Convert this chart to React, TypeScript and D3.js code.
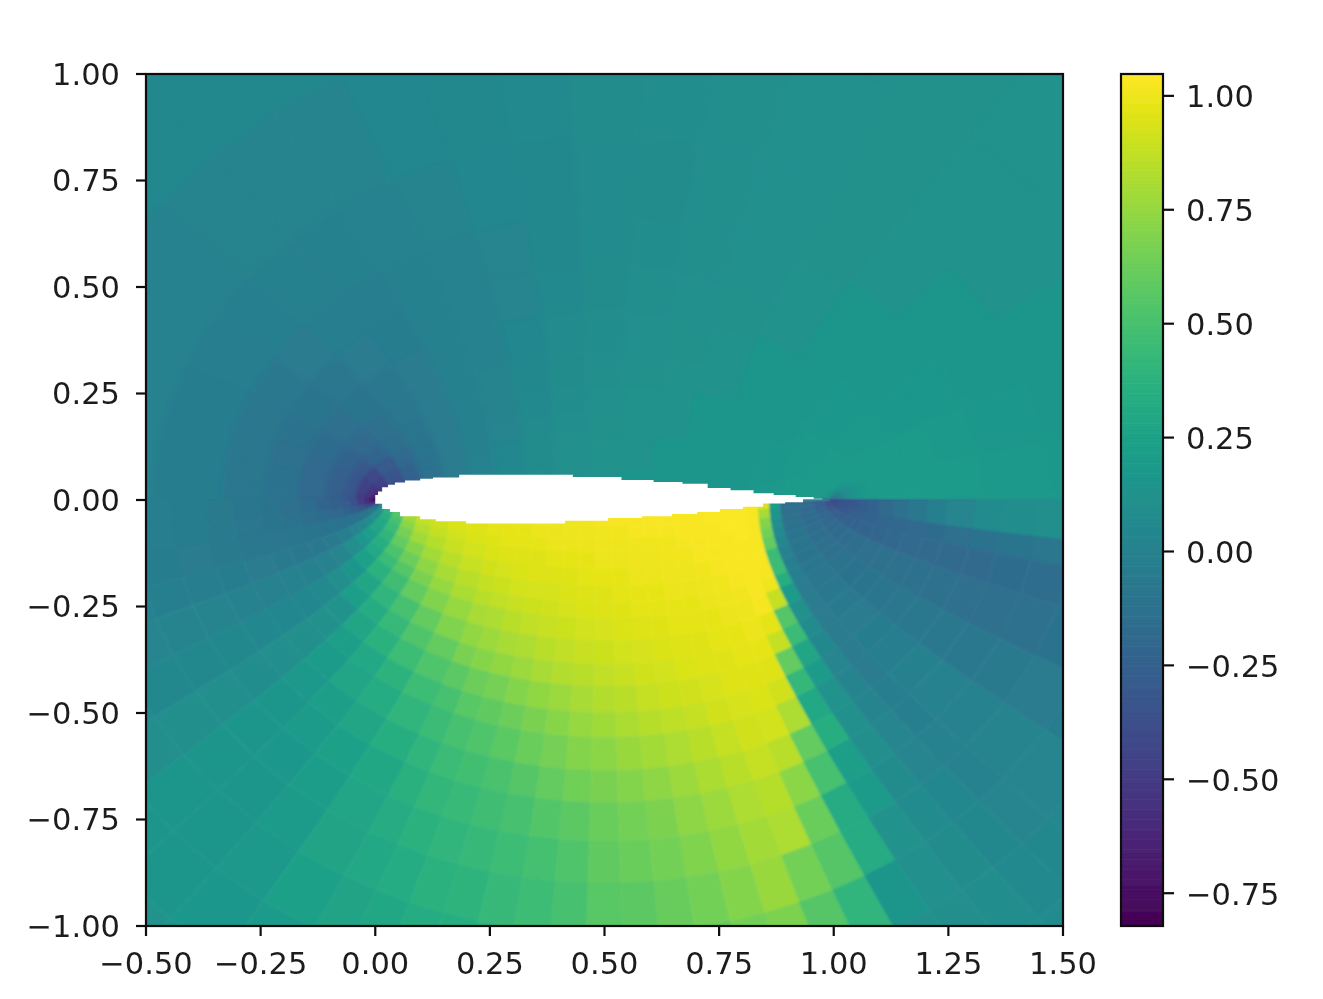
import React from "react";
import * as d3 from "d3";

// Mesh coordinates (elliptic: foci on the chord ends), one column per angle band, one value per layer.
const lowerNu = [180,184,188,193,198,204,210,216,222,228,234,240,244,248,252,256,260,264,268,272,276,280,284,288,292,296,300,304,308,312,316,320,328,336,344,350,354,360];
const lowerMu = [0,.06,.12,.18,.24,.315,.39,.465,.53,.62,.71,.79,.88,.96,1.06,1.15,1.25,1.35,1.46,1.58,1.7,1.87];
const lowerValues = [
[-.8,-.78,-.72,-.66,-.58,-.48,-.36,-.29,-.25,-.22,-.17,-.14,-.11,-.09,-.06,-.04,-.03,-.01,0,0,.01],
[-.7,-.62,-.55,-.48,-.4,-.32,-.28,-.24,-.2,-.17,-.15,-.12,-.1,-.08,-.06,-.04,-.03,-.01,0,0,.01],
[-.5,-.35,-.2,-.12,-.08,-.1,-.12,-.12,-.12,-.11,-.1,-.09,-.08,-.07,-.06,-.05,-.04,-.03,-.02,-.01,0],
[.2,.15,.12,.1,.1,.08,.05,.02,-.03,-.06,-.07,-.07,-.06,-.05,-.04,-.03,-.02,-.01,0,.01,.03],
[.45,.4,.37,.33,.3,.27,.22,.17,.1,.03,0,-.01,0,.01,.01,.02,.02,.03,.04,.05,.07],
[.65,.6,.55,.5,.45,.4,.35,.3,.24,.16,.1,.06,.04,.04,.04,.05,.05,.05,.06,.07,.08],
[.9,.85,.78,.72,.66,.6,.52,.45,.37,.28,.22,.14,.12,.1,.1,.09,.1,.1,.1,.11,.12],
[.95,.92,.88,.83,.78,.7,.63,.55,.47,.4,.33,.28,.22,.2,.18,.16,.16,.15,.15,.16,.16],
[.96,.94,.91,.88,.84,.79,.73,.67,.6,.5,.43,.37,.3,.27,.22,.2,.17,.16,.15,.15,.14],
[.97,.96,.94,.92,.89,.85,.8,.75,.69,.6,.53,.46,.38,.33,.28,.24,.21,.19,.18,.17,.15],
[.98,.97,.96,.94,.92,.89,.85,.81,.75,.69,.6,.53,.46,.4,.35,.29,.27,.26,.24,.2,.17],
[.98,.98,.97,.96,.94,.91,.88,.85,.8,.74,.67,.58,.5,.45,.4,.36,.32,.3,.26,.22,.18],
[.99,.98,.98,.97,.95,.93,.9,.87,.82,.77,.71,.63,.56,.5,.45,.41,.37,.33,.29,.25,.21],
[1,.99,.98,.97,.96,.94,.92,.89,.85,.8,.74,.66,.59,.53,.48,.44,.4,.37,.33,.29,.24],
[1,1,.99,.98,.96,.95,.93,.9,.87,.82,.77,.7,.63,.57,.51,.47,.43,.39,.35,.31,.26],
[1.01,1,.99,.99,.97,.95,.93,.91,.89,.85,.8,.74,.67,.62,.55,.5,.46,.43,.38,.33,.28],
[1.01,1,1,.99,.98,.96,.94,.93,.9,.87,.83,.77,.71,.66,.6,.54,.49,.46,.42,.36,.3],
[1.02,1.01,1,.99,.98,.97,.95,.94,.92,.89,.85,.8,.75,.7,.64,.58,.53,.5,.45,.39,.33],
[1.02,1.02,1.01,1,.99,.98,.96,.95,.93,.9,.87,.83,.78,.72,.67,.62,.59,.56,.5,.43,.36],
[1.03,1.02,1.01,1,.99,.98,.97,.96,.94,.92,.89,.85,.81,.76,.7,.65,.62,.58,.53,.47,.39],
[1.03,1.02,1.02,1.01,1,.99,.98,.97,.95,.93,.91,.88,.84,.79,.73,.68,.65,.61,.56,.49,.42],
[1.03,1.03,1.02,1.01,1,.99,.98,.97,.96,.94,.92,.9,.86,.82,.77,.73,.69,.65,.6,.53,.45],
[1.03,1.03,1.02,1.01,1.01,1,.99,.98,.97,.95,.94,.91,.88,.85,.81,.77,.74,.7,.65,.57,.48],
[1.03,1.03,1.03,1.02,1.01,1,.99,.98,.97,.96,.95,.93,.91,.88,.85,.82,.79,.76,.68,.6,.5],
[1.03,1.03,1.03,1.02,1.02,1.01,1,.99,.98,.97,.96,.95,.93,.91,.88,.84,.82,.65,.55,.5,.42],
[1.04,1.04,1.03,1.03,1.02,1.02,1.01,1,.99,.98,.97,.96,.94,.92,.85,.72,.62,.55,.4,.3,.2],
[1.04,1.04,1.04,1.03,1.03,1.03,1.02,1.01,1,.99,.98,.96,.91,.82,.6,.5,.32,.32,.15,.12,.11],
[1.04,1.04,1.04,1.04,1.03,1.03,1.03,1.03,1.02,.97,.88,.6,.42,.3,.35,.22,.2,.13,.11,.1,.09],
[1.03,1.03,1.03,1.03,1.03,1.03,1.02,1,.88,.55,.45,.28,.2,.13,.12,.1,.08,.07,.08,.09,.09],
[.95,.8,.7,.65,.6,.45,.45,.35,.2,.12,.08,.05,.03,.02,.02,.03,.03,.04,.05,.06,.07],
[.2,.15,.1,.08,.05,0,-.02,-.03,-.05,-.05,-.05,-.05,-.05,-.05,-.03,-.02,0,.01,.03,.05,.07],
[-.15,-.14,-.13,-.12,-.1,-.1,-.1,-.09,-.08,-.07,-.06,-.05,-.04,-.03,-.01,0,.01,.02,.03,.04,.06],
[-.18,-.18,-.17,-.17,-.16,-.15,-.14,-.13,-.12,-.11,-.1,-.09,-.08,-.07,-.07,-.07,-.06,-.05,-.04,-.03,-.01],
[-.25,-.24,-.22,-.2,-.19,-.18,-.17,-.16,-.15,-.14,-.13,-.13,-.13,-.13,-.14,-.14,-.13,-.11,-.09,-.07,-.05],
[-.38,-.36,-.33,-.3,-.27,-.25,-.24,-.23,-.22,-.21,-.2,-.19,-.18,-.18,-.18,-.17,-.16,-.13,-.1,-.08,-.06],
[-.38,-.37,-.36,-.34,-.32,-.3,-.27,-.25,-.23,-.21,-.2,-.19,-.17,-.14,-.12,-.1,-.08,-.06,-.04,-.02,0],
[-.38,-.38,-.37,-.36,-.35,-.33,-.31,-.28,-.24,-.18,-.13,-.07,-.02,.03,.07,.09,.1,.11,.13,.14,.15],
];

const upperNu = [180,176,171,165,158,150,142,134,126,118,110,102,94,86,78,70,60,50,40,30,20,10,0];
const upperMu = [0,.07,.14,.22,.3,.4,.52,.65,.8,.95,1.1,1.3,1.55,1.9];
const upperValues = [
[-.82,-.78,-.68,-.58,-.5,-.33,-.26,-.19,-.12,-.08,-.04,0,.02],
[-.78,-.72,-.62,-.54,-.46,-.32,-.25,-.19,-.12,-.08,-.04,0,.02],
[-.7,-.65,-.58,-.52,-.45,-.33,-.25,-.19,-.13,-.08,-.04,0,.02],
[-.6,-.55,-.5,-.45,-.4,-.31,-.23,-.17,-.12,-.08,-.04,0,.02],
[-.4,-.38,-.36,-.33,-.3,-.22,-.18,-.14,-.1,-.07,-.03,0,.03],
[-.28,-.27,-.25,-.23,-.19,-.15,-.13,-.1,-.08,-.05,-.02,.01,.04],
[-.15,-.14,-.13,-.12,-.11,-.09,-.08,-.07,-.05,-.03,-.01,.02,.05],
[-.05,-.05,-.05,-.05,-.05,-.05,-.05,-.05,-.04,-.03,-.01,.02,.05],
[0,0,0,-.01,-.01,-.01,-.01,-.01,-.01,-.01,0,.02,.05],
[.05,.05,.04,.04,.03,.02,.02,.01,.01,.01,.02,.04,.06],
[.09,.09,.08,.08,.07,.06,.05,.04,.03,.03,.04,.05,.07],
[.12,.12,.11,.11,.1,.09,.08,.07,.06,.05,.05,.06,.07],
[.14,.14,.13,.13,.12,.11,.1,.09,.08,.07,.07,.08,.08],
[.15,.15,.14,.14,.13,.13,.12,.11,.1,.09,.08,.09,.09],
[.15,.15,.15,.15,.14,.14,.13,.12,.11,.1,.1,.1,.1],
[.16,.15,.15,.15,.15,.15,.14,.13,.12,.11,.11,.11,.11],
[.16,.16,.16,.16,.16,.16,.15,.15,.14,.13,.12,.12,.12],
[.18,.18,.17,.17,.17,.16,.16,.16,.15,.15,.14,.13,.13],
[.2,.19,.19,.18,.18,.18,.17,.17,.16,.16,.15,.14,.14],
[.2,.2,.2,.2,.19,.19,.18,.18,.17,.17,.16,.15,.14],
[.15,.18,.2,.2,.2,.2,.2,.19,.19,.18,.17,.16,.15],
[-.28,-.22,-.1,0,.08,.15,.19,.2,.2,.19,.18,.17,.16],
];

// The white section: x where each step ends, and the y held along that step
const upperSurfaceX = [0,.006,.015,.028,.043,.065,.098,.126,.183,.431,.537,.607,.67,.725,.775,.825,.869,.917,.956,.975];
const upperSurfaceY = [0,.012,.02,.03,.036,.041,.046,.05,.053,.059,.054,.047,.042,.038,.028,.023,.016,.012,.007,.003];
const lowerSurfaceX = [0,.015,.032,.054,.098,.132,.198,.414,.508,.582,.647,.702,.752,.802,.846,.894,.933,.975];
const lowerSurfaceY = [0,-.009,-.021,-.028,-.038,-.045,-.05,-.055,-.049,-.042,-.038,-.033,-.028,-.021,-.016,-.008,-.005,.002];

const xTicks = [-.5,-.25,0,.25,.5,.75,1,1.25,1.5];
const yTicks = [-1,-.75,-.5,-.25,0,.25,.5,.75,1];
const barTicks = [-.75,-.5,-.25,0,.25,.5,.75,1];
const valueDomain: [number, number] = [-.822, 1.048];

const W = 1323, H = 999;
const x = d3.scaleLinear().domain([-.5, 1.5]).range([146, 1063]);
const y = d3.scaleLinear().domain([-1, 1]).range([926, 74]);
const bar = d3.scaleLinear().domain(valueDomain).range([926, 74]);
const colour = d3.scaleSequential(d3.interpolateViridis).domain(valueDomain);
const fmt = (v: number) => d3.format(".2f")(v).replace("-", "\u2212");

const pt = (nu: number, mu: number): [number, number] => {
  const a = (nu * Math.PI) / 180;
  return [x(.5 + .5 * Math.cosh(mu) * Math.cos(a)), y(.5 * Math.sinh(mu) * Math.sin(a))];
};

const cells = (nus: number[], mus: number[], vals: number[][]) =>
  vals.flatMap((col, i) =>
    col.map((v, j) => {
      const c = [pt(nus[i], mus[j]), pt(nus[i + 1], mus[j]), pt(nus[i + 1], mus[j + 1]), pt(nus[i], mus[j + 1])];
      return { i, j, d: "M" + c.map((p) => p.map((n) => n.toFixed(2)).join(",")).join("L") + "Z", fill: colour(v) };
    })
  );

const upperCells = cells(upperNu, upperMu, upperValues);
const noseCells = upperCells.filter((c) => c.i < 5 && c.j < 5);
const lowerCells = cells(lowerNu, lowerMu, lowerValues);

const steps = (xs: number[], ys: number[]) =>
  xs.flatMap((xv, i) => (i === 0 ? [[xv, ys[0]]] : [[xs[i - 1], ys[i]], [xv, ys[i]]]));
const sectionPoints = [...steps(upperSurfaceX, upperSurfaceY), ...steps(lowerSurfaceX, lowerSurfaceY).reverse()];
const section = d3.line<number[]>().x((p) => x(p[0])).y((p) => y(p[1]))(sectionPoints) + "Z";

const barLevels = d3.range(256).map((i) => valueDomain[0] + ((i + .5) / 256) * (valueDomain[1] - valueDomain[0]));
const barStep = (bar.range()[0] - bar.range()[1]) / 256;

const font = { fontFamily: "'DejaVu Sans'", fontSize: 30.5, fill: "#1c1c1c" };
const paint = (list: { d: string; fill: string }[]) =>
  list.map((c, i) => <path key={i} d={c.d} fill={c.fill} stroke={c.fill} strokeWidth={.6} />);

export default function App() {
  return (
    <svg width={W} height={H} style={{ position: "absolute", left: 0, top: 0, display: "block", background: "#fff" }}>
      <defs>
        <clipPath id="ax"><rect x={146} y={74} width={917} height={852} /></clipPath>
        <filter id="wide" filterUnits="userSpaceOnUse" x="0" y="0" width={W} height={H}><feGaussianBlur stdDeviation="3" /></filter>
        <filter id="soft" filterUnits="userSpaceOnUse" x="0" y="0" width={W} height={H}><feGaussianBlur stdDeviation=".9" /></filter>
        <filter id="ink" filterUnits="userSpaceOnUse" x="0" y="0" width={W} height={H}><feGaussianBlur stdDeviation=".5" /></filter>
      </defs>
      <g clipPath="url(#ax)">
        <g>{paint(upperCells)}</g>
        <g filter="url(#wide)">{paint(upperCells)}</g>
        <g filter="url(#soft)">{paint(noseCells)}</g>
        <g>{paint(lowerCells.filter((c) => c.i > 34 || c.i < 3))}</g>
        <g filter="url(#soft)">{paint(lowerCells)}</g>
        <path d={section} fill="#fff" />
      </g>
      <g filter="url(#ink)">
        {barLevels.map((v) => (
          <rect key={v} x={1121} y={bar(v) - barStep / 2 - .3} width={42} height={barStep + .6} fill={colour(v)} />
        ))}
        <rect x={146} y={74} width={917} height={852} fill="none" stroke="#111" strokeWidth={2.2} />
        {xTicks.map((t) => (
          <g key={t}>
            <line x1={x(t)} x2={x(t)} y1={926} y2={936} stroke="#111" strokeWidth={2.2} />
            <text x={x(t)} y={974} textAnchor="middle" {...font}>{fmt(t)}</text>
          </g>
        ))}
        {yTicks.map((t) => (
          <g key={t}>
            <line x1={136} x2={146} y1={y(t)} y2={y(t)} stroke="#111" strokeWidth={2.2} />
            <text x={120} y={y(t) + 10.5} textAnchor="end" {...font}>{fmt(t)}</text>
          </g>
        ))}
        <rect x={1121} y={74} width={42} height={852} fill="none" stroke="#111" strokeWidth={2.2} />
        {barTicks.map((t) => (
          <g key={t}>
            <line x1={1163} x2={1174} y1={bar(t)} y2={bar(t)} stroke="#111" strokeWidth={2.2} />
            <text x={1186} y={bar(t) + 11.5} {...font}>{fmt(t)}</text>
          </g>
        ))}
      </g>
    </svg>
  );
}
